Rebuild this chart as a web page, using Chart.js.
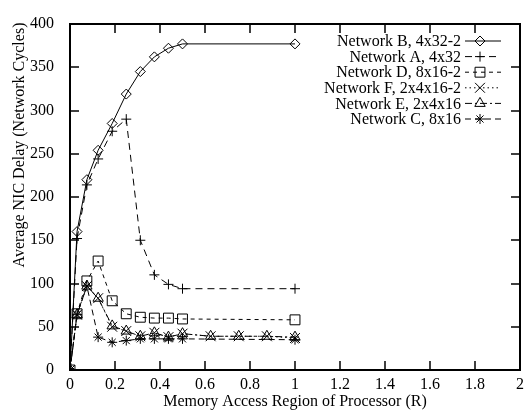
<!DOCTYPE html>
<html>
<head>
<meta charset="utf-8">
<script src="https://cdn.jsdelivr.net/npm/chart.js@4/dist/chart.umd.min.js"></script>
<style>
html, body { margin: 0; padding: 0; background: #fff; }
</style>
</head>
<body>
<canvas id="nic-chart" width="531" height="410"></canvas>
<script>

// memory access region R (the E/F runs have extra points past 0.5)
const regionX = [0, 0.03125, 0.075, 0.125, 0.1875, 0.25, 0.3125, 0.375, 0.4375, 0.5, 1]
const regionXLong = [0, 0.03125, 0.075, 0.125, 0.1875, 0.25, 0.3125, 0.375, 0.4375, 0.5, 0.625, 0.75, 0.875, 1]

// average NIC delay in network cycles
const netB = [0, 160, 220, 254, 285, 319, 345, 362, 372, 377, 377]
const netA = [0, 152, 214, 244, 276, 290, 150, 110, 99, 94, 94]
const netD = [0, 65, 103, 126, 80, 65, 61, 60, 60, 59, 58]
const netF = [0, 64, 97, 83, 50, 45, 39, 43, 38, 42, 39, 39, 39, 37]
const netE = [0, 64, 97, 83, 51, 45, 39, 43, 38, 42, 39, 39, 39, 38]
const netC = [0, 64, 97, 38, 32, 34, 36, 36, 36, 36, 35]

const seriesNames = ['Network B, 4x32-2', 'Network A, 4x32', 'Network D, 8x16-2',
    'Network F, 2x4x16-2', 'Network E, 2x4x16', 'Network C, 8x16']

const xTitle = 'Memory Access Region of Processor (R)'
const yTitle = 'Average NIC Delay (Network Cycles)'

const FONT = 'Liberation Serif, Times New Roman, serif'

function pts(xs, ys) {
    return ys.map((y, i) => ({ x: xs[i], y: y }))
}

function series(label, xs, ys, style, radius, dash) {
    return {
        label: label,
        data: pts(xs, ys),
        borderColor: '#000',
        borderWidth: 1,
        borderDash: dash,
        backgroundColor: 'rgba(0,0,0,0)',
        pointStyle: style,
        pointRadius: radius,
        pointHoverRadius: radius,
        pointBorderColor: '#000',
        pointBorderWidth: 1,
        pointBackgroundColor: 'rgba(0,0,0,0)',
        tension: 0,
        fill: false
    }
}

const datasets = [
    series(seriesNames[0], regionX, netB, 'rectRot', 5, []),
    series(seriesNames[1], regionX, netA, 'cross', 5, [7, 5]),
    series(seriesNames[2], regionX, netD, 'rect', 7, [4, 4]),
    series(seriesNames[3], regionXLong, netF, 'crossRot', 7, [1.5, 3]),
    series(seriesNames[4], regionXLong, netE, 'triangle', 6, [7, 3, 2, 3]),
    series(seriesNames[5], regionX, netC, 'star', 5, [6, 4])
]

// frame, inward ticks on all four sides, key box and the y title
const framePlugin = {
    id: 'frame',
    afterDraw(chart) {
        const ctx = chart.ctx
        const a = chart.chartArea
        const xs = chart.scales.x
        const ys = chart.scales.y
        const tl = 9

        ctx.save()
        ctx.strokeStyle = '#000'
        ctx.setLineDash([])
        ctx.lineWidth = 1.5
        ctx.beginPath()
        xs.ticks.forEach(t => {
            const px = Math.round(xs.getPixelForValue(t.value))
            if (px <= a.left + 1 || px >= a.right - 1) return
            ctx.moveTo(px, a.bottom); ctx.lineTo(px, a.bottom - tl)
            ctx.moveTo(px, a.top); ctx.lineTo(px, a.top + tl)
        })
        ys.ticks.forEach(t => {
            const py = Math.round(ys.getPixelForValue(t.value))
            if (py <= a.top + 1 || py >= a.bottom - 1) return
            ctx.moveTo(a.left, py); ctx.lineTo(a.left + tl, py)
            ctx.moveTo(a.right, py); ctx.lineTo(a.right - tl, py)
        })
        ctx.stroke()

        ctx.lineWidth = 2
        ctx.strokeRect(a.left, a.top, a.right - a.left, a.bottom - a.top)

        // key
        ctx.font = '16px ' + FONT
        ctx.textAlign = 'right'
        ctx.textBaseline = 'middle'
        chart.data.datasets.forEach((ds, i) => {
            const y = 41 + i * 15.6
            ctx.fillStyle = '#000'
            ctx.fillText(ds.label, 461, y + 1)
            ctx.lineWidth = 1
            ctx.setLineDash(ds.borderDash)
            ctx.beginPath()
            ctx.moveTo(465, y)
            ctx.lineTo(501, y)
            ctx.stroke()
            ctx.setLineDash([])
            ctx.fillStyle = 'rgba(0,0,0,0)'
            Chart.helpers.drawPoint(ctx, {
                pointStyle: ds.pointStyle,
                radius: ds.pointRadius,
                rotation: 0,
                borderWidth: 1
            }, 480, y)
        })

        // y axis title
        ctx.fillStyle = '#000'
        ctx.save()
        ctx.translate(20, 145)
        ctx.rotate(-Math.PI / 2)
        ctx.textAlign = 'center'
        ctx.fillText(yTitle, 0, 0)
        ctx.restore()

        ctx.restore()
    }
}

new Chart(document.querySelector('#nic-chart').getContext('2d'), {
    type: 'line',
    data: { datasets: datasets },
    options: {
        responsive: false,
        animation: false,
        events: [],
        layout: { padding: { top: 14, right: 11, left: 0, bottom: 0 } },
        plugins: {
            legend: { display: false },
            tooltip: { enabled: false }
        },
        scales: {
            x: {
                type: 'linear',
                min: 0,
                max: 2,
                grid: { display: false, drawTicks: false },
                border: { display: false },
                ticks: {
                    stepSize: 0.2,
                    color: '#000',
                    padding: 7,
                    maxRotation: 0,
                    font: { family: FONT, size: 16, lineHeight: 1 },
                    callback: v => String(parseFloat(v.toFixed(1)))
                },
                title: {
                    display: true,
                    text: xTitle,
                    color: '#000',
                    padding: 0,
                    font: { family: FONT, size: 16, lineHeight: 1 }
                },
                afterFit(scale) { scale.height = 40 }
            },
            y: {
                min: 0,
                max: 400,
                grid: { display: false, drawTicks: false },
                border: { display: false },
                ticks: {
                    stepSize: 50,
                    color: '#000',
                    padding: 16,
                    font: { family: FONT, size: 16, lineHeight: 1 }
                },
                afterFit(scale) { scale.width = 70 }
            }
        }
    },
    plugins: [framePlugin]
})
</script>
</body>
</html>
